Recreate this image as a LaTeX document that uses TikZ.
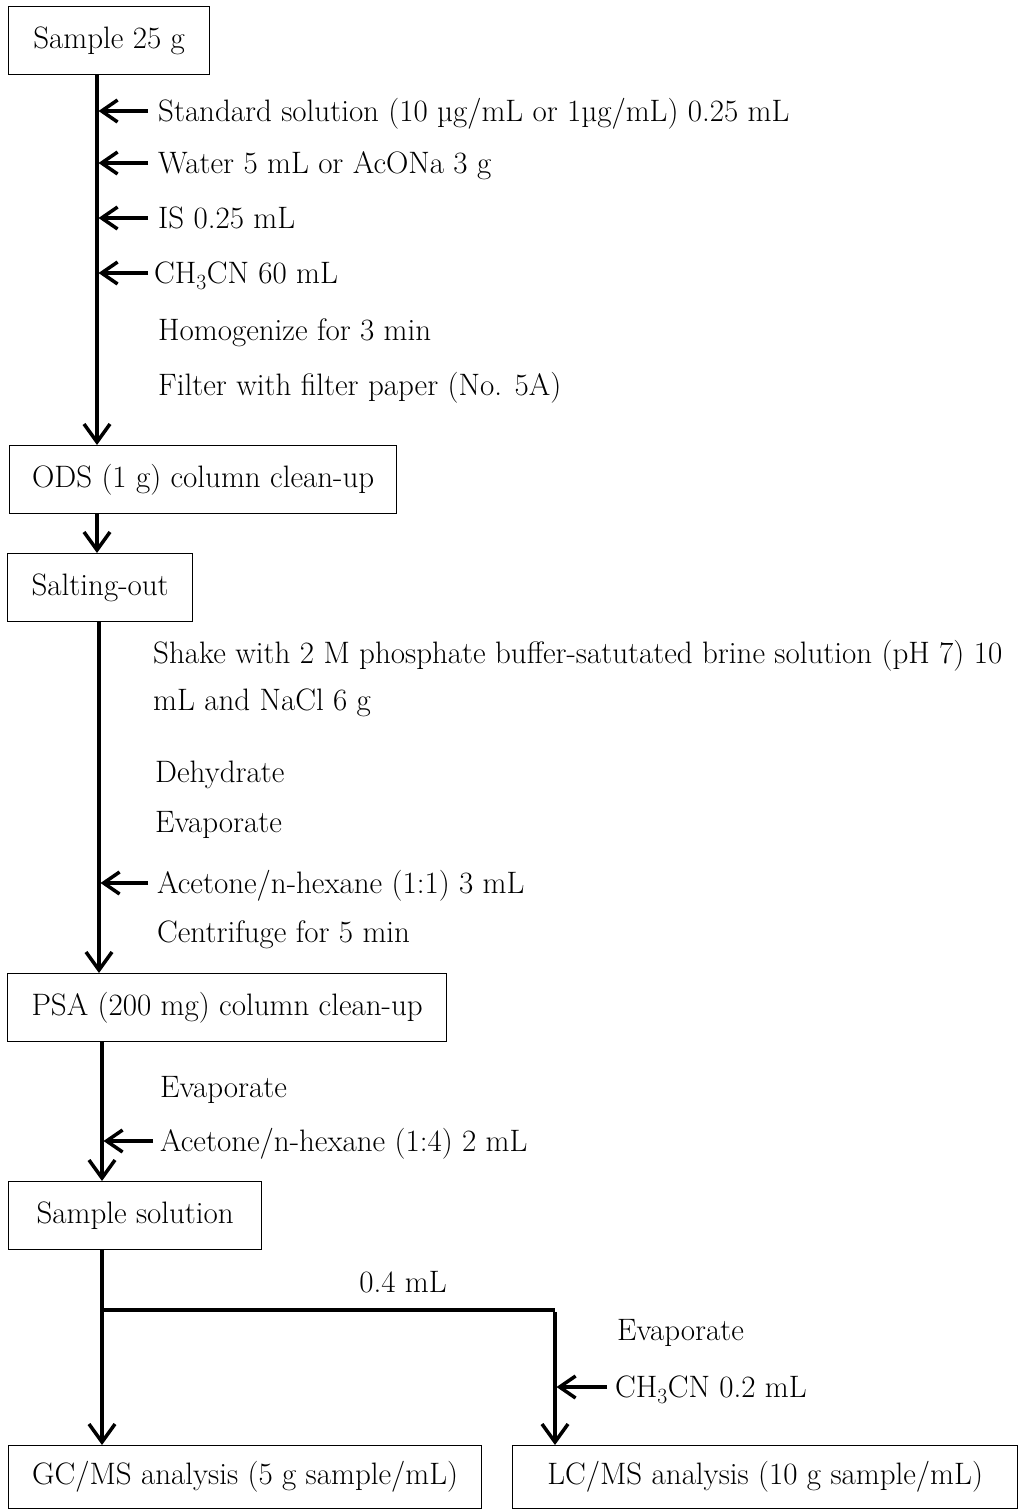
\documentclass[tikz,border=0pt]{standalone}
\usepackage{fontspec}
\usetikzlibrary{arrows.meta}
\begin{document}
\begin{tikzpicture}[x=1pt,y=-1pt,
  font=\fontsize{31}{37}\selectfont,
  box/.style={draw, line width=1.3pt, anchor=north west, inner sep=0pt, align=center},
  lbl/.style={anchor=west, inner sep=0pt, text height=22pt, text depth=1pt},
  flow/.style={line width=3.5pt, -{Straight Barb[length=18pt,width=26pt]}},
  side/.style={line width=3.5pt, -{Straight Barb[length=16pt,width=22pt]}},
  plainline/.style={line width=3.5pt}]
\useasboundingbox (0,0) rectangle (1032,1510);
% spines
\coordinate (spA) at (97,0);
\coordinate (spB) at (99,0);
\coordinate (spC) at (102,0);
% boxes
\node[box, minimum width=201pt, minimum height=68pt] (s25) at (8,6) {Sample 25 g};
\node[box, minimum width=387pt, minimum height=68pt] (ods) at (9,445) {ODS (1 g) column clean-up};
\node[box, minimum width=185pt, minimum height=68pt] (salt) at (7,553) {Salting-out};
\node[box, minimum width=439pt, minimum height=68pt] (psa) at (7,973) {PSA (200 mg) column clean-up};
\node[box, minimum width=253pt, minimum height=68pt] (sol) at (8,1181) {Sample solution};
\node[box, minimum width=473pt, minimum height=63pt] (gc) at (8,1445) {GC/MS analysis (5 g sample/mL)};
\node[box, minimum width=505pt, minimum height=63pt] (lc) at (512,1445) {LC/MS analysis (10 g sample/mL)};
% labels
\node[lbl] (std) at (158,111) {Standard solution (10 µg/mL or 1µg/mL) 0.25 mL};
\node[lbl] (wat) at (158,163) {Water 5 mL or AcONa 3 g};
\node[lbl] (isl) at (158,218) {IS 0.25 mL};
\node[lbl] (ch1) at (154,273) {CH\textsubscript{3}CN 60 mL};
\node[lbl] (hom) at (158,330) {Homogenize for 3 min};
\node[lbl] (fil) at (158,385) {Filter with filter paper (No. 5A)};
\node[lbl] (shk) at (153,653) {Shake with 2 M phosphate buffer-satutated brine solution (pH 7) 10};
\node[lbl] (shk2) at (153,700) {mL and NaCl 6 g};
\node[lbl] (dehy) at (155,772) {Dehydrate};
\node[lbl] (ev1) at (155,822) {Evaporate};
\node[lbl] (ac1) at (157,883) {Acetone/n-hexane (1:1) 3 mL};
\node[lbl] (cen) at (157,932) {Centrifuge for 5 min};
\node[lbl] (ev2) at (160,1087) {Evaporate};
\node[lbl] (ac2) at (160,1141) {Acetone/n-hexane (1:4) 2 mL};
\node[lbl] (ev3) at (617,1330) {Evaporate};
\node[lbl] (ch2) at (615,1387) {CH\textsubscript{3}CN 0.2 mL};
\node[inner sep=0pt] (vol) at (403,1282) {0.4 mL};
% main flow
\draw[flow] (spA |- s25.south) -- (spA |- ods.north);
\draw[flow] (spA |- ods.south) -- (spA |- salt.north);
\draw[flow] (spB |- salt.south) -- (spB |- psa.north);
\draw[flow] (spC |- psa.south) -- (spC |- sol.north);
\draw[flow] (spC |- sol.south) -- (spC |- gc.north);
\coordinate (br) at (555,1310);
\draw[plainline] (spC |- br) -- (br);
\draw[flow] ([yshift=-1.75pt]br) -- (br |- lc.north);
% side arrows
\draw[side] ([xshift=-10pt]std.west) -- ([xshift=1.5pt]spA |- std.west);
\draw[side] ([xshift=-10pt]wat.west) -- ([xshift=1.5pt]spA |- wat.west);
\draw[side] ([xshift=-10pt]isl.west) -- ([xshift=1.5pt]spA |- isl.west);
\draw[side] ([xshift=-6pt]ch1.west) -- ([xshift=1.5pt]spA |- ch1.west);
\draw[side] ([xshift=-9pt]ac1.west) -- ([xshift=1.5pt]spB |- ac1.west);
\draw[side] ([xshift=-7pt]ac2.west) -- ([xshift=1.5pt]spC |- ac2.west);
\draw[side] ([xshift=-8pt]ch2.west) -- ([xshift=1.5pt]br |- ch2.west);
\end{tikzpicture}
\end{document}
